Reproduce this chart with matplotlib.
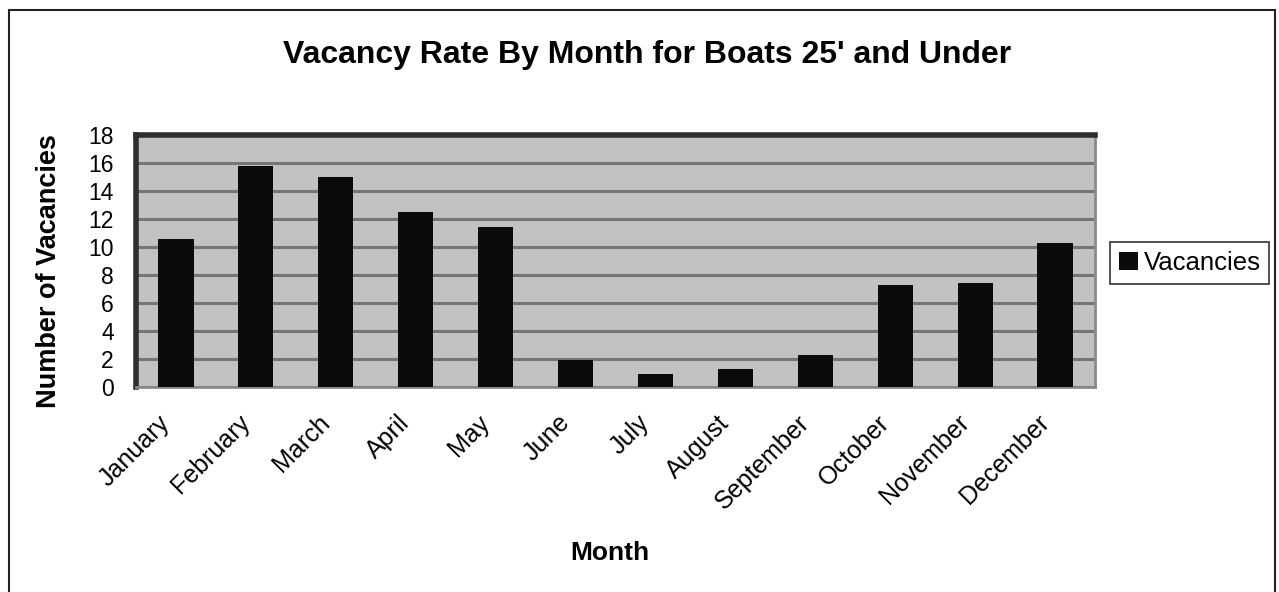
import matplotlib.pyplot as plt
import matplotlib.transforms as mtransforms
from matplotlib.patches import Rectangle

plt.rcParams['font.family'] = ['Liberation Sans', 'DejaVu Sans']

months = ["January", "February", "March", "April", "May", "June", "July",
          "August", "September", "October", "November", "December"]
vacancies = [10.6, 15.8, 15.0, 12.5, 11.4, 1.9, 0.9, 1.3, 2.3, 7.3, 7.4, 10.3]
yticks = [0, 2, 4, 6, 8, 10, 12, 14, 16, 18]

W, H = 1279, 592
fig = plt.figure(figsize=(W / 100, H / 100), dpi=100)
fig.patch.set_facecolor("white")

# outer chart border
fig.patches.append(Rectangle((9 / W, -0.02), (1275 - 9) / W, 1.02 - 10 / H,
                             transform=fig.transFigure, fill=False,
                             edgecolor="#222222", linewidth=1.5))

ax = fig.add_axes([136 / W, 1 - 387 / H, (1095 - 136) / W, (387 - 135) / H])
ax.set_facecolor("#c2c2c2")

x = range(len(months))
bars = ax.bar(x, vacancies, width=0.44, color="#0a0a0a", zorder=3,
              label="Vacancies")

ax.set_xlim(-0.5, len(months) - 0.5)
ax.set_ylim(0, 18)
ax.set_yticks(yticks)
ax.yaxis.grid(True, color="#767676", linewidth=2.2, zorder=1)
ax.set_axisbelow(True)

ax.tick_params(axis="y", length=0, pad=16, labelsize=16.5)
ax.tick_params(axis="x", length=0, pad=17, labelsize=18)
ax.set_xticks(list(x))
ax.set_xticklabels(months, rotation=45, ha="right", va="top",
                   rotation_mode="anchor")
# labels in the original sit a little left of their bars
shift = mtransforms.ScaledTranslation(-18 / 100, 0, fig.dpi_scale_trans)
for lab in ax.get_xticklabels():
    lab.set_transform(lab.get_transform() + shift)

for side in ["top", "left"]:
    ax.spines[side].set_color("#2e2e2e")
    ax.spines[side].set_linewidth(4)
for side in ["bottom", "right"]:
    ax.spines[side].set_color("#8a8a8a")
    ax.spines[side].set_linewidth(2)

ax.set_ylabel("Number of Vacancies", fontsize=19.5, fontweight="bold")
ax.set_xlabel("Month", fontsize=19, fontweight="bold")
ax.yaxis.set_label_coords(-74 / (1095 - 136), 0.46)
ax.xaxis.set_label_coords(0.494, -0.61)

fig.text(647 / W, 1 - 55 / H, "Vacancy Rate By Month for Boats 25' and Under",
         ha="center", va="center", fontsize=23, fontweight="bold")

leg = fig.legend(handles=[bars], labels=["Vacancies"], loc="center left",
                 bbox_to_anchor=(1110 / W, 1 - 263 / H), fontsize=18.5,
                 frameon=True, fancybox=False, edgecolor="black",
                 handlelength=0.75, handleheight=0.75, handletextpad=0.2,
                 borderpad=0.35, borderaxespad=0)
leg.get_frame().set_linewidth(1.2)

fig.savefig("out.png", dpi=100)
